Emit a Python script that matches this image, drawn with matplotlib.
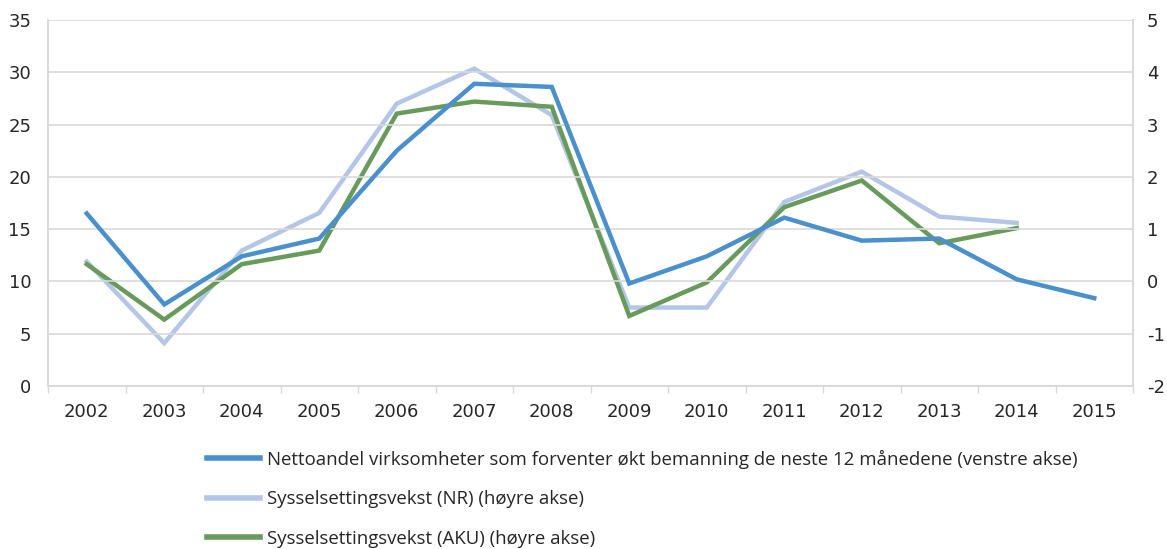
import numpy as np
import matplotlib.pyplot as plt

plt.rcParams['axes.unicode_minus'] = False

years = ['2002', '2003', '2004', '2005', '2006', '2007', '2008', '2009',
         '2010', '2011', '2012', '2013', '2014', '2015']

# venstre akse
netto = [16.5, 7.8, 12.4, 14.1, 22.5, 28.9, 28.6, 9.8, 12.4, 16.1, 13.9, 14.1, 10.2, 8.4]
# hoyre akse
nr = [0.38, -1.18, 0.59, 1.31, 3.4, 4.07, 3.18, -0.5, -0.5, 1.52, 2.1, 1.24, 1.12]
aku = [0.33, -0.73, 0.33, 0.59, 3.21, 3.44, 3.34, -0.66, -0.02, 1.42, 1.93, 0.73, 1.02]

labels = ['Nettoandel virksomheter som forventer økt bemanning de neste 12 månedene (venstre akse)',
          'Sysselsettingsvekst (NR) (høyre akse)',
          'Sysselsettingsvekst (AKU) (høyre akse)']

c_blue = '#4A90CD'
c_light = '#B4C6E7'
c_green = '#679A5B'
c_grid = '#D9D9D9'

fig = plt.figure(figsize=(11.67, 5.49), dpi=100)
ax = fig.add_axes([48/1167, 1 - 386/549, (1133-48)/1167, 366/549])
ax2 = ax.twinx()

x = np.arange(len(years))
l1, = ax.plot(x, netto, color=c_blue, lw=3.2, solid_joinstyle='miter', zorder=3)
l2, = ax2.plot(x[:len(nr)], nr, color=c_light, lw=3.2, solid_joinstyle='miter', zorder=1)
l3, = ax2.plot(x[:len(aku)], aku, color=c_green, lw=3.2, solid_joinstyle='miter', zorder=2)

ax.set_zorder(2)
ax.patch.set_visible(False)

ax.set_xlim(-0.5, len(years) - 0.5)
ax.set_ylim(0, 35)
ax.set_yticks(range(0, 36, 5))
ax2.set_ylim(-2, 5)
ax2.set_yticks(range(-2, 6))

ax.set_xticks(x)
ax.set_xticklabels(years)
ax.set_xticks(np.arange(-0.5, len(years), 1), minor=True)
ax.tick_params(axis='x', which='major', length=0, pad=12)
ax.tick_params(axis='x', which='minor', length=5, color=c_grid, width=1)
ax.tick_params(axis='y', length=0, pad=12)
ax2.tick_params(axis='y', length=0, pad=10)
for a in (ax, ax2):
    a.tick_params(labelsize=13, labelcolor='#262626')

ax.grid(axis='y', color=c_grid, lw=1.2)
for a in (ax, ax2):
    for s in ['left', 'right', 'bottom']:
        a.spines[s].set_color(c_grid)
        a.spines[s].set_linewidth(1.2)
    a.spines['top'].set_visible(False)

leg = fig.legend([l1, l2, l3], labels, loc='upper left', bbox_to_anchor=(190/1167, 1 - 433/549),
                 frameon=False, handlelength=2.85, handletextpad=0.38,
                 labelspacing=1.15, prop={'family': 'Open Sans', 'size': 13.45})
for h in leg.legend_handles:
    h.set_linewidth(4)
for t in leg.get_texts():
    t.set_color('#262626')

fig.savefig('out.png', dpi=100)
